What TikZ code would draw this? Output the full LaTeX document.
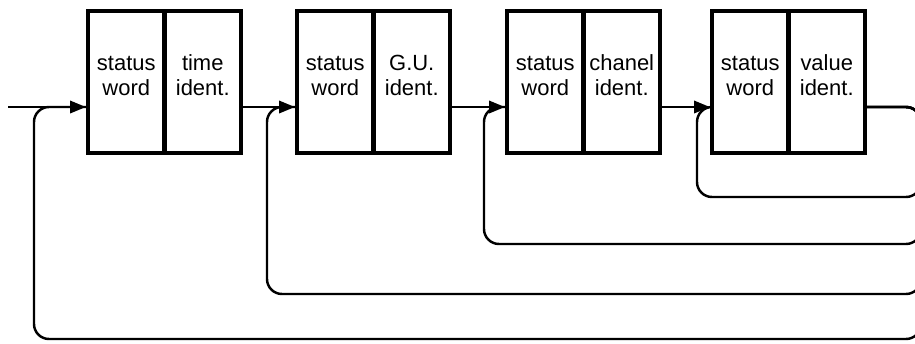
\documentclass[tikz,border=0pt]{standalone}
\usepackage{fontspec}
\setmainfont{Liberation Sans}
\usetikzlibrary{arrows.meta,positioning}
\newcommand{\celltext}[2]{\rule{0pt}{10pt}#1\\#2}
\tikzset{cell/.style={draw,line width=2.4pt,minimum width=1.53cm,minimum height=2.84cm,inner sep=0pt}}
\tikzset{lbl/.style={align=center,inner sep=0pt,font=\fontsize{12.5}{14.2}\selectfont}}
\tikzset{wire/.style={line width=1.4pt,->}}
\tikzset{ret/.style={line width=1.4pt,rounded corners=0.3cm}}

\begin{document}
\begin{tikzpicture}[>={Triangle[length=9pt,width=7pt]}]
    \useasboundingbox (0,0) rectangle (18.3,-6.86);

    \node[cell] (s1) at (2.525,-1.635) {};
    \node[cell] (t1) at (4.055,-1.635) {};
    \node[cell] (s2) at (6.705,-1.635) {};
    \node[cell] (g2) at (8.235,-1.635) {};
    \node[cell] (s3) at (10.905,-1.635) {};
    \node[cell] (c3) at (12.435,-1.635) {};
    \node[cell] (s4) at (15.005,-1.635) {};
    \node[cell] (v4) at (16.535,-1.635) {};

    \node[lbl,below=0.88cm of s1.north] (s1t) {\celltext{status}{word}};
    \node[lbl,below=0.88cm of t1.north] (t1t) {\celltext{time}{ident.}};
    \node[lbl,below=0.88cm of s2.north] (s2t) {\celltext{status}{word}};
    \node[lbl,below=0.88cm of g2.north] (g2t) {\celltext{G.U.}{ident.}};
    \node[lbl,below=0.88cm of s3.north] (s3t) {\celltext{status}{word}};
    \node[lbl,below=0.88cm of c3.north] (c3t) {\celltext{chanel}{ident.}};
    \node[lbl,below=0.88cm of s4.north] (s4t) {\celltext{status}{word}};
    \node[lbl,below=0.88cm of v4.north] (v4t) {\celltext{value}{ident.}};

    \coordinate (in) at (0.16,-2.14);

    \draw [ret] (v4.east |- in) -- (18.42,-2.14) -- (18.42,-3.94) -- (13.94,-3.94) -- (13.94,-2.14) -- (s4.west |- in);
    \draw [ret] (v4.east |- in) -- (18.42,-2.14) -- (18.42,-4.88) -- (9.68,-4.88) -- (9.68,-2.14) -- (s3.west |- in);
    \draw [ret] (v4.east |- in) -- (18.42,-2.14) -- (18.42,-5.88) -- (5.34,-5.88) -- (5.34,-2.14) -- (s2.west |- in);
    \draw [ret] (v4.east |- in) -- (18.42,-2.14) -- (18.42,-6.78) -- (0.68,-6.78) -- (0.68,-2.14) -- (s1.west |- in);

    \draw [wire] (in) to (s1.west |- in);
    \draw [wire] (t1.east |- in) to (s2.west |- in);
    \draw [wire] (g2.east |- in) to (s3.west |- in);
    \draw [wire] (c3.east |- in) to (s4.west |- in);
\end{tikzpicture}
\end{document}
